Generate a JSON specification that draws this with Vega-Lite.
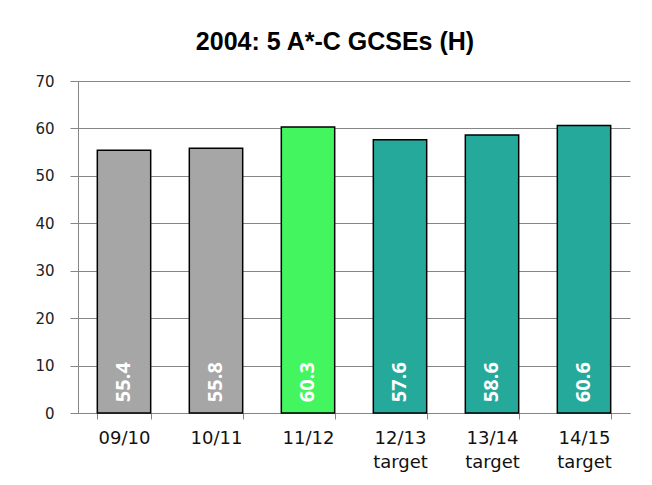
{
  "$schema": "https://vega.github.io/schema/vega-lite/v6.json",
  "autosize": "none",
  "width": 552,
  "height": 332,
  "padding": {"left": 78, "top": 81, "right": 22, "bottom": 72},
  "background": "white",
  "title": {
    "text": "2004: 5 A*-C GCSEs (H)",
    "font": "Liberation Sans",
    "fontSize": 25,
    "fontWeight": "bold",
    "color": "black",
    "anchor": "middle",
    "dx": -19,
    "baseline": "bottom",
    "offset": -6
  },
  "data": {
    "values": [
      {"year": "09/10", "value": 55.4, "kind": "past"},
      {"year": "10/11", "value": 55.8, "kind": "past"},
      {"year": "11/12", "value": 60.3, "kind": "current"},
      {"year": "12/13 target", "value": 57.6, "kind": "target"},
      {"year": "13/14 target", "value": 58.6, "kind": "target"},
      {"year": "14/15 target", "value": 60.6, "kind": "target"}
    ]
  },
  "encoding": {
    "x": {
      "field": "year",
      "type": "nominal",
      "sort": null,
      "title": null,
      "scale": {"paddingInner": 0.42, "paddingOuter": 0.21},
      "axis": {
        "labelExpr": "datum.value ? split(datum.value, ' ') : ''",
        "labelAngle": 0,
        "labelFont": "DejaVu Sans",
        "labelFontSize": 18,
        "labelColor": "#111111",
        "labelLineHeight": 24,
        "labelBaseline": "top",
        "labelPadding": 10,
        "tickBand": "extent",
        "tickSize": 6,
        "tickColor": "#868686",
        "domainColor": "#868686",
        "grid": false
      }
    }
  },
  "layer": [
    {
      "mark": {"type": "bar", "stroke": "black", "strokeWidth": 1.5},
      "encoding": {
        "y": {
          "field": "value",
          "type": "quantitative",
          "title": null,
          "scale": {"domain": [0, 70]},
          "axis": {
            "values": [0, 10, 20, 30, 40, 50, 60, 70],
            "labelFont": "DejaVu Sans",
            "labelFontSize": 15,
            "labelColor": "#222222",
            "labelPadding": 16,
            "tickSize": 8,
            "tickColor": "#868686",
            "domainColor": "#868686",
            "gridColor": "#868686",
            "gridWidth": 1
          }
        },
        "color": {
          "field": "kind",
          "type": "nominal",
          "legend": null,
          "scale": {
            "domain": ["past", "current", "target"],
            "range": ["#A6A6A6", "#43F65F", "#25A99A"]
          }
        }
      }
    },
    {
      "mark": {
        "type": "text",
        "angle": -90,
        "align": "center",
        "baseline": "middle",
        "font": "Open Sans",
        "fontWeight": "bold",
        "fontSize": 20,
        "color": "white"
      },
      "encoding": {
        "y": {"datum": 6.5, "type": "quantitative"},
        "text": {"field": "value", "type": "quantitative", "format": ".1f"}
      }
    }
  ],
  "config": {"view": {"stroke": null}}
}
